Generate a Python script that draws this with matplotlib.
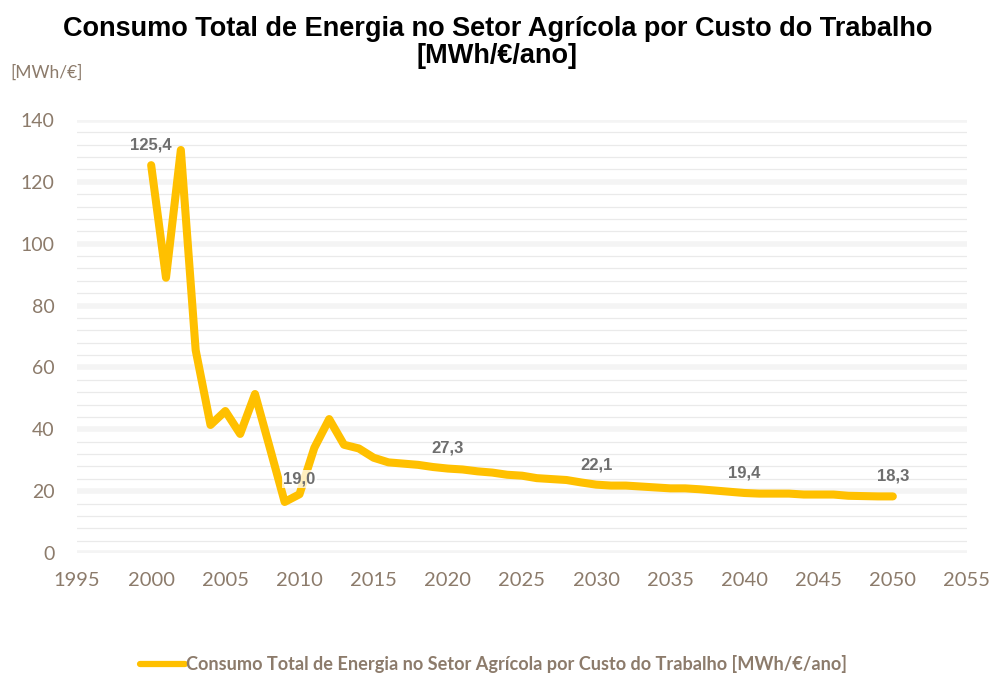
import numpy as np
import matplotlib.pyplot as plt
from matplotlib.ticker import MultipleLocator

# energy use per labour cost, history + projection
years = list(range(2000, 2051))
values = [125.4, 89.0, 130.3, 65.6, 41.4, 45.9, 38.5, 51.4, 34.0, 16.5,
          19.0, 34.0, 43.3, 35.0, 33.8, 30.8, 29.3, 28.9, 28.5, 27.8,
          27.3, 27.0, 26.4, 26.0, 25.3, 25.0, 24.2, 23.9, 23.6, 22.8,
          22.1, 21.8, 21.8, 21.5, 21.2, 20.9, 20.9, 20.6, 20.2, 19.8,
          19.4, 19.2, 19.2, 19.2, 18.9, 18.9, 18.9, 18.5, 18.4, 18.3,
          18.3]
label_years = [2000, 2010, 2020, 2030, 2040, 2050]
label_texts = ["125,4", "19,0", "27,3", "22,1", "19,4", "18,3"]

series_name = "Consumo Total de Energia no Setor Agrícola por Custo do Trabalho [MWh/€/ano]"
title = "Consumo Total de Energia no Setor Agrícola por Custo do Trabalho\n[MWh/€/ano]"

brown = "#8C7B6B"
yellow = "#FFC000"
body_font = ["Lato", "DejaVu Sans"]

fig = plt.figure(figsize=(9.95, 6.77), dpi=100)
ax = fig.add_axes([77 / 995, 1 - 553 / 677, 890 / 995, 433 / 677])

ax.set_xlim(1995, 2055)
ax.set_ylim(0, 140)

# faint minor grid every 4, wider light bands every 20
for y in np.arange(0, 141, 4):
    if y % 20 == 0:
        ax.axhline(y, color="#F4F4F4", lw=4, zorder=0)
    else:
        ax.axhline(y, color="#EAEAEA", lw=0.9, zorder=0)

ax.plot(years, values, color=yellow, lw=5.8, solid_capstyle="round",
        solid_joinstyle="round", zorder=3, label=series_name)

lookup = dict(zip(years, values))
for yr, txt in zip(label_years, label_texts):
    v = lookup[yr]
    if yr == 2010:
        ax.text(yr, v + 5, txt, ha="center", va="center", fontsize=12,
                fontweight="bold", color="#6E6E6E", zorder=4, family="Liberation Sans",
                bbox=dict(boxstyle="square,pad=0.1", fc="white", ec="none", alpha=0.75))
    else:
        ax.text(yr, v + 6.5, txt, ha="center", va="center", fontsize=12,
                fontweight="bold", color="#6E6E6E", zorder=4, family="Liberation Sans")

ax.xaxis.set_major_locator(MultipleLocator(5))
ax.yaxis.set_major_locator(MultipleLocator(20))
ax.tick_params(length=0)
ax.tick_params(axis="y", pad=16, labelsize=14, labelcolor=brown)
ax.tick_params(axis="x", pad=14, labelsize=14.5, labelcolor=brown)
for lbl in ax.get_xticklabels() + ax.get_yticklabels():
    lbl.set_family(body_font)
for s in ax.spines.values():
    s.set_visible(False)

fig.text(0.5, 0.937, title, ha="center", va="center", fontsize=19.5,
         fontweight="bold", family="Liberation Sans", linespacing=1.05)
fig.text(10 / 995, 1 - 73 / 677, "[MWh/€]", ha="left", va="center",
         fontsize=12.5, color=brown, family=body_font)

leg = fig.legend(loc="center", bbox_to_anchor=(0.496, 1 - 664 / 677), frameon=False,
                 handlelength=2.5, handletextpad=0.05,
                 prop={"family": body_font, "weight": "bold", "size": 13.1})
for t in leg.get_texts():
    t.set_color(brown)
for h in leg.legend_handles:
    h.set_linewidth(4.5)

fig.savefig("out.png", dpi=100, facecolor="white")
